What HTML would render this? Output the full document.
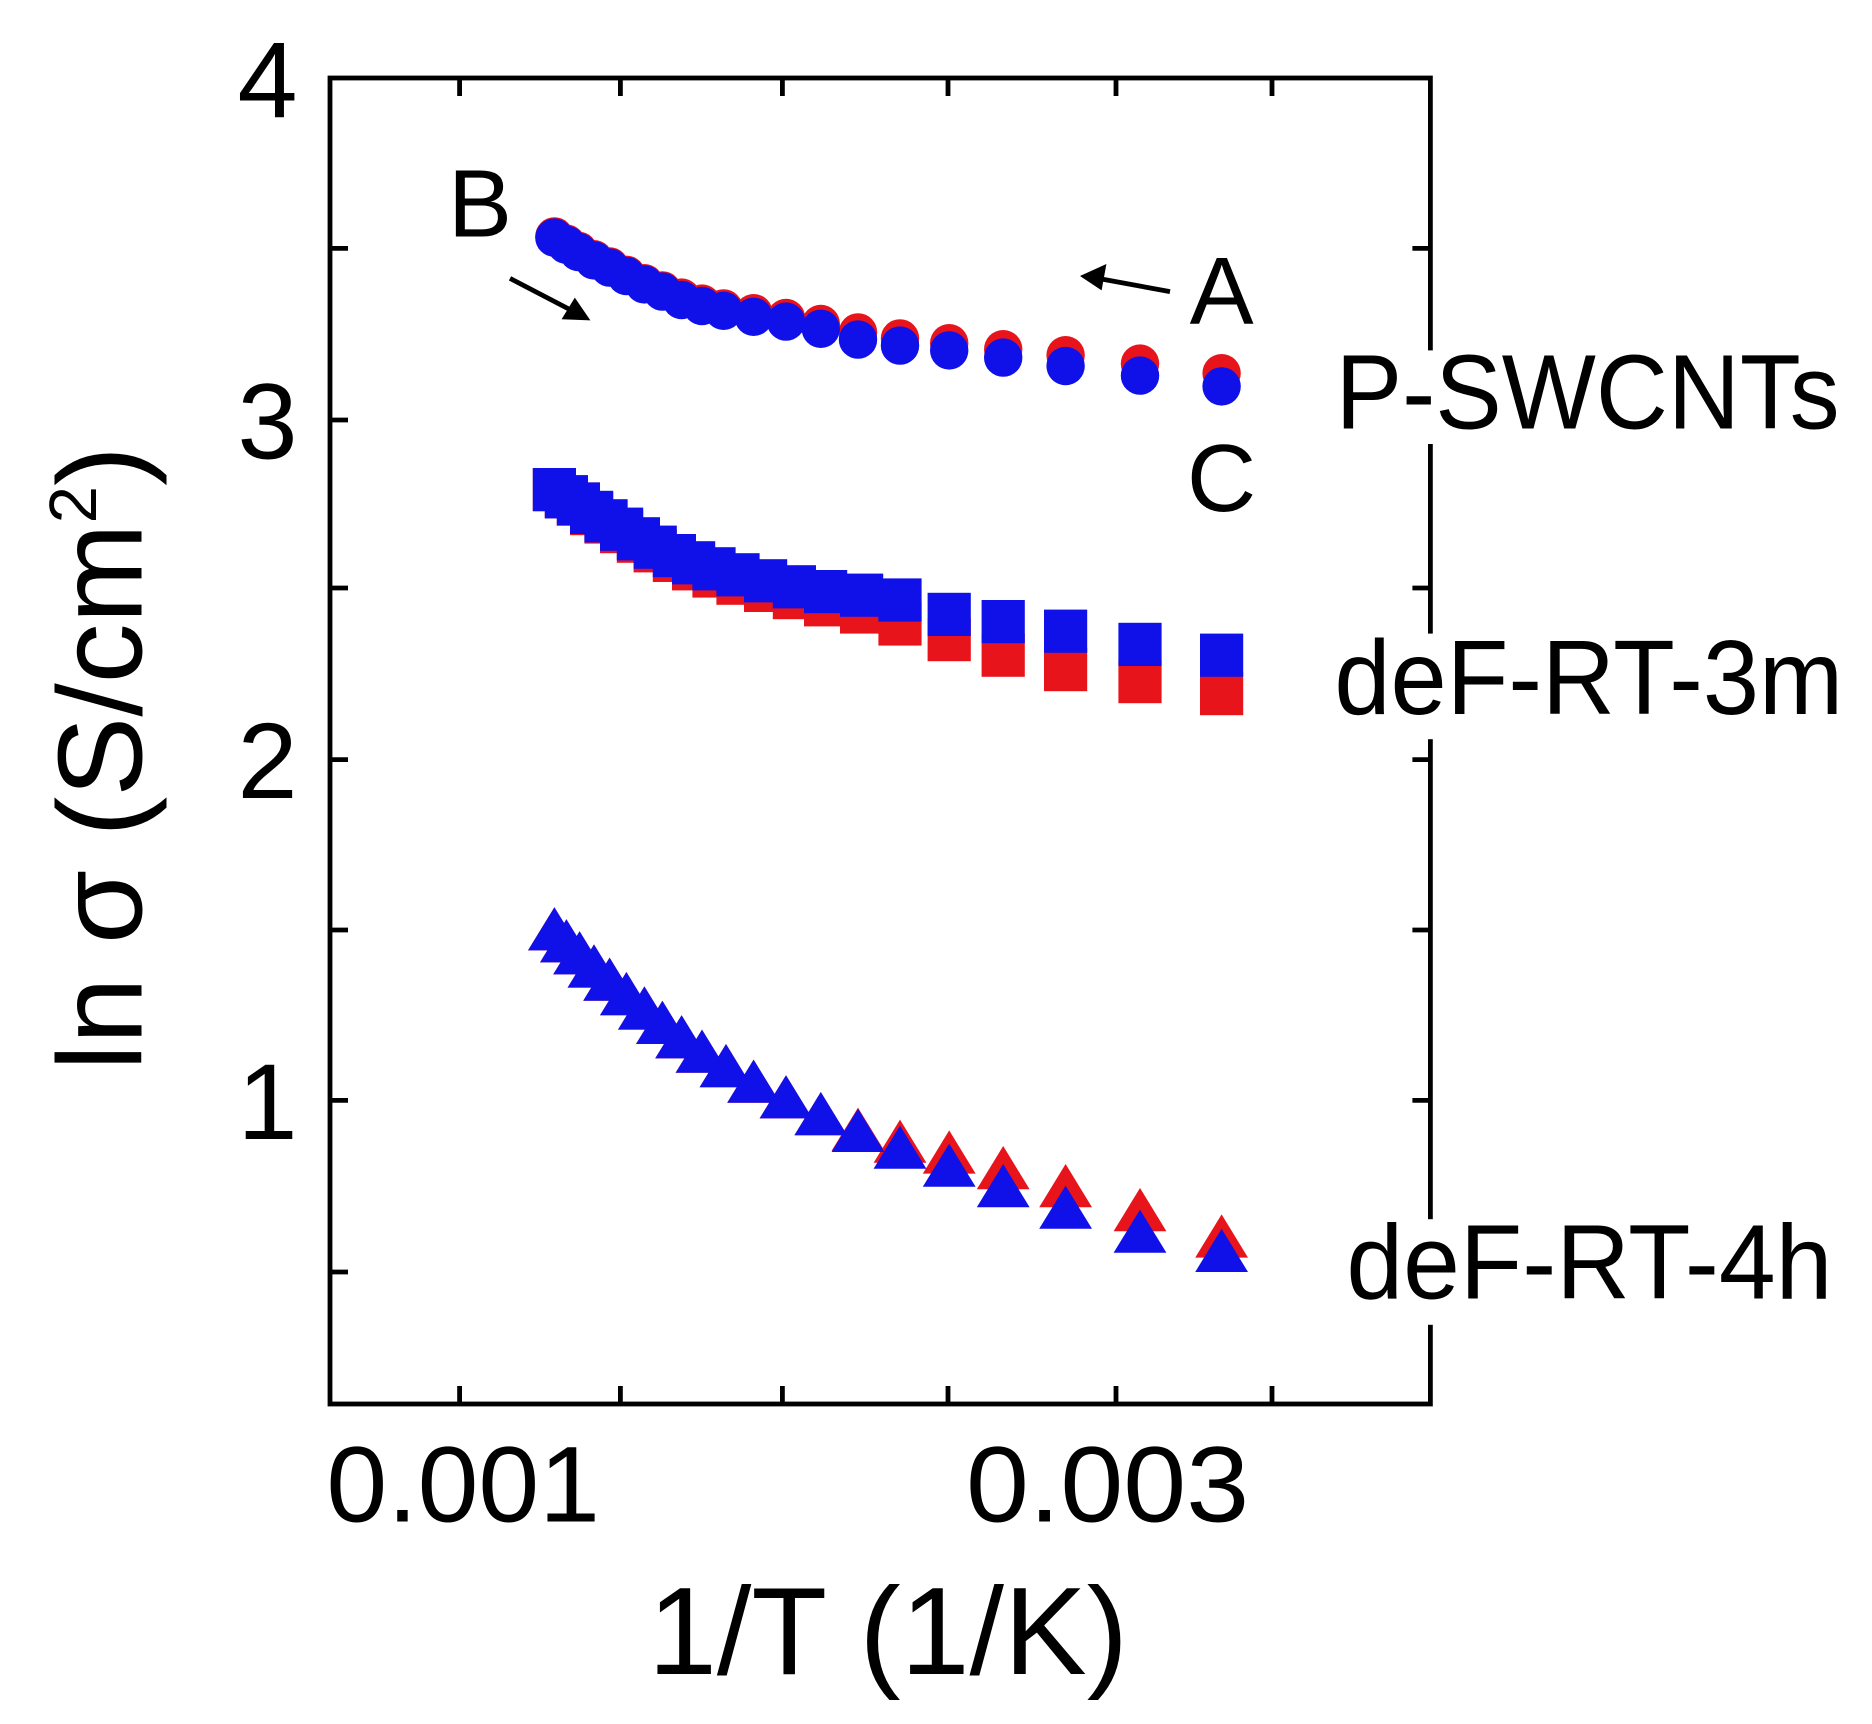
<!DOCTYPE html>
<html><head><meta charset="utf-8"><style>html,body{margin:0;padding:0;background:#fff}svg{display:block}</style></head>
<body>
<svg width="1872" height="1724" viewBox="0 0 1560 1436.67" xmlns="http://www.w3.org/2000/svg" font-family="Liberation Sans, Arial, sans-serif">
<rect width="1560" height="1437" fill="#fff"/>
<g fill="#e8141c">
<rect x="444" y="390" width="36" height="36"/><rect x="454" y="396" width="36" height="36"/><rect x="464" y="402" width="36" height="36"/><rect x="475" y="410" width="36" height="36"/><rect x="487" y="417" width="36" height="36"/><rect x="500" y="425" width="36" height="36"/><rect x="514" y="433" width="36" height="36"/><rect x="528" y="441" width="36" height="36"/><rect x="544" y="449" width="36" height="36"/><rect x="560" y="456" width="36" height="36"/><rect x="577" y="462" width="36" height="36"/><rect x="597" y="468" width="36" height="36"/><rect x="620" y="474" width="36" height="36"/><rect x="644" y="480" width="36" height="36"/><rect x="670" y="486" width="36" height="36"/><rect x="700" y="492" width="36" height="36"/><rect x="732" y="502" width="36" height="36"/><rect x="773" y="515" width="36" height="36"/><rect x="818" y="528" width="36" height="36"/><rect x="870" y="540" width="36" height="36"/><rect x="932" y="550" width="36" height="36"/><rect x="1000" y="560" width="36" height="36"/>
</g>
<g fill="#1010e8">
<rect x="444" y="390" width="36" height="36"/><rect x="454" y="396" width="36" height="36"/><rect x="464" y="402" width="36" height="36"/><rect x="475" y="409" width="36" height="36"/><rect x="487" y="416" width="36" height="36"/><rect x="500" y="423" width="36" height="36"/><rect x="514" y="431" width="36" height="36"/><rect x="528" y="438" width="36" height="36"/><rect x="544" y="445" width="36" height="36"/><rect x="560" y="451" width="36" height="36"/><rect x="577" y="456" width="36" height="36"/><rect x="597" y="461" width="36" height="36"/><rect x="620" y="466" width="36" height="36"/><rect x="644" y="471" width="36" height="36"/><rect x="670" y="475" width="36" height="36"/><rect x="700" y="478" width="36" height="36"/><rect x="732" y="482" width="36" height="36"/><rect x="773" y="494" width="36" height="36"/><rect x="818" y="500" width="36" height="36"/><rect x="870" y="508" width="36" height="36"/><rect x="932" y="519" width="36" height="36"/><rect x="1000" y="528" width="36" height="36"/>
</g>
<g fill="#e8141c">
<circle cx="462" cy="197" r="16"/><circle cx="472" cy="203" r="16"/><circle cx="482" cy="209" r="16"/><circle cx="495" cy="216" r="16"/><circle cx="508" cy="222" r="16"/><circle cx="522" cy="229" r="16"/><circle cx="537" cy="236" r="16"/><circle cx="552" cy="242" r="16"/><circle cx="568" cy="248" r="16"/><circle cx="585" cy="253" r="16"/><circle cx="603" cy="257" r="16"/><circle cx="628" cy="261" r="16"/><circle cx="655" cy="265" r="16"/><circle cx="684" cy="270" r="16"/><circle cx="715" cy="277" r="16"/><circle cx="750" cy="282" r="16"/><circle cx="791" cy="286" r="16"/><circle cx="836" cy="291" r="16"/><circle cx="888" cy="296" r="16"/><circle cx="950" cy="303" r="16"/><circle cx="1018" cy="311" r="16"/>
</g>
<g fill="#1010e8">
<circle cx="462" cy="198" r="16"/><circle cx="472" cy="204" r="16"/><circle cx="482" cy="210" r="16"/><circle cx="495" cy="217" r="16"/><circle cx="508" cy="223" r="16"/><circle cx="522" cy="230" r="16"/><circle cx="537" cy="237" r="16"/><circle cx="552" cy="243" r="16"/><circle cx="568" cy="250" r="16"/><circle cx="585" cy="255" r="16"/><circle cx="603" cy="259" r="16"/><circle cx="628" cy="264" r="16"/><circle cx="655" cy="268" r="16"/><circle cx="684" cy="274" r="16"/><circle cx="715" cy="283" r="16"/><circle cx="750" cy="288" r="16"/><circle cx="791" cy="292" r="16"/><circle cx="836" cy="298" r="16"/><circle cx="888" cy="305" r="16"/><circle cx="950" cy="313" r="16"/><circle cx="1018" cy="322" r="16"/>
</g>
<g fill="#e8141c">
<path d="M462 756l22 36h-44z"/><path d="M472 766l22 36h-44z"/><path d="M483 776l22 36h-44z"/><path d="M495 787l22 36h-44z"/><path d="M508 798l22 36h-44z"/><path d="M522 810l22 36h-44z"/><path d="M537 822l22 36h-44z"/><path d="M552 834l22 36h-44z"/><path d="M568 846l22 36h-44z"/><path d="M585 858l22 36h-44z"/><path d="M605 870l22 36h-44z"/><path d="M628 883l22 36h-44z"/><path d="M655 896l22 36h-44z"/><path d="M684 910l22 36h-44z"/><path d="M715 923l22 36h-44z"/><path d="M750 933l22 36h-44z"/><path d="M791 942l22 36h-44z"/><path d="M836 955l22 36h-44z"/><path d="M888 970l22 36h-44z"/><path d="M950 990l22 36h-44z"/><path d="M1018 1012l22 36h-44z"/>
</g>
<g fill="#1010e8">
<path d="M462 756l22 36h-44z"/><path d="M472 766l22 36h-44z"/><path d="M483 776l22 36h-44z"/><path d="M495 787l22 36h-44z"/><path d="M508 798l22 36h-44z"/><path d="M522 810l22 36h-44z"/><path d="M537 822l22 36h-44z"/><path d="M552 834l22 36h-44z"/><path d="M568 846l22 36h-44z"/><path d="M585 858l22 36h-44z"/><path d="M605 870l22 36h-44z"/><path d="M628 883l22 36h-44z"/><path d="M655 896l22 36h-44z"/><path d="M684 910l22 36h-44z"/><path d="M715 924l22 36h-44z"/><path d="M750 938l22 36h-44z"/><path d="M791 953l22 36h-44z"/><path d="M836 970l22 36h-44z"/><path d="M888 988l22 36h-44z"/><path d="M950 1008l22 36h-44z"/><path d="M1018 1024l22 36h-44z"/>
</g>
<g stroke="#000" stroke-width="4" fill="none">
<rect x="275" y="65" width="917" height="1105"/>
<path d="M275 207h15M275 350h15M275 490h15M275 633h15M275 775h15M275 917h15M275 1060h15
M1192 207h-15M1192 350h-15M1192 490h-15M1192 633h-15M1192 775h-15M1192 917h-15M1192 1060h-15
M383 1170v-15M517 1170v-15M652 1170v-15M790 1170v-15M930 1170v-15M1060 1170v-15
M383 65v15M517 65v15M652 65v15M790 65v15M930 65v15M1060 65v15"/>
<path d="M975 243L915 232M425 232L475 258"/>
</g>
<path d="M900 230l22-10-4 22z" fill="#000"/>
<path d="M492 267l-24-1 11-18z" fill="#000"/>
<g fill="#fff">
<rect x="1105" y="292" width="440" height="78"/>
<rect x="1105" y="528" width="440" height="88"/>
<rect x="1115" y="1016" width="420" height="88"/>
</g>
<g font-size="90" fill="#000">
<text x="248" y="98" text-anchor="end">4</text>
<text x="248" y="382" text-anchor="end">3</text>
<text x="248" y="665" text-anchor="end">2</text>
<text x="248" y="949" text-anchor="end">1</text>
<text x="272" y="1268" textLength="228" lengthAdjust="spacingAndGlyphs">0.001</text>
<text x="805" y="1268" textLength="236" lengthAdjust="spacingAndGlyphs">0.003</text>
</g>
<g font-size="80" fill="#000">
<text x="400" y="197" text-anchor="middle">B</text>
<text x="1018" y="270" text-anchor="middle">A</text>
<text x="1018" y="426" text-anchor="middle">C</text>
</g>
<g font-size="88" fill="#000">
<text x="1113" y="357" textLength="420" lengthAdjust="spacingAndGlyphs">P-SWCNTs</text>
<text x="1112" y="595" textLength="424" lengthAdjust="spacingAndGlyphs">deF-RT-3m</text>
<text x="1122" y="1082" textLength="405" lengthAdjust="spacingAndGlyphs">deF-RT-4h</text>
</g>
<text x="540" y="1395" font-size="104" textLength="400" lengthAdjust="spacingAndGlyphs">1/T (1/K)</text>
<text transform="translate(118,632) rotate(-90)" text-anchor="middle" font-size="100">ln σ (S/cm<tspan font-size="56" dy="-38">2</tspan><tspan dy="38">)</tspan></text>
</svg>
</body></html>
